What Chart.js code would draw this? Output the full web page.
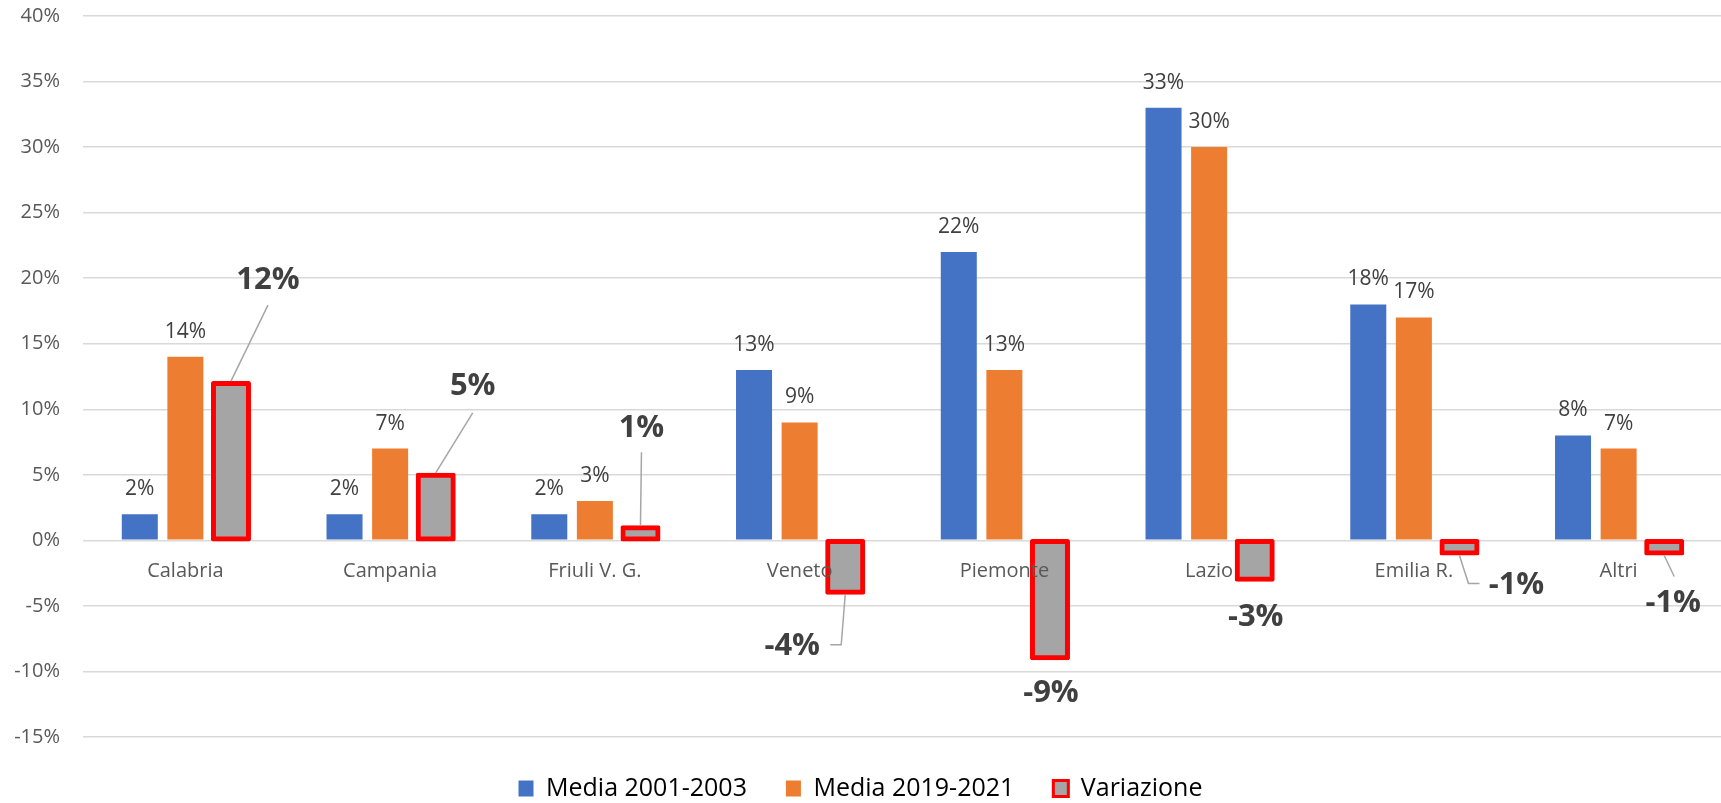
<!DOCTYPE html>
<html>
<head>
<meta charset="utf-8">
<script src="https://cdn.jsdelivr.net/npm/chart.js@4/dist/chart.umd.min.js"></script>
<style>
  html, body { margin: 0; padding: 0; background: #fff; }
  #chart-container { width: 1721px; height: 803px; }
</style>
</head>
<body>
<div id="chart-container"><canvas id="variazione-chart"></canvas></div>
<script>
const regioni = ['Calabria', 'Campania', 'Friuli V. G.', 'Veneto', 'Piemonte', 'Lazio', 'Emilia R.', 'Altri'];
const media2001 = [2, 2, 2, 13, 22, 33, 18, 8];
const media2019 = [14, 7, 3, 9, 13, 30, 17, 7];
const variazione = [12, 5, 1, -4, -9, -3, -1, -1];
const serieNomi = ['Media 2001-2003', 'Media 2019-2021', 'Variazione'];
const yMin = -15;
const yMax = 40;
const yStep = 5;

// posizione delle etichette "Variazione" rispetto alla fine della barra (px),
// leader = punti della linea di richiamo, relativi al centro dell'etichetta
const labelOffsets = [
  { dx: 37, dy: -103, leader: [[0, 25]] },
  { dx: 37, dy: -89, leader: [[0, 27]] },
  { dx: 1, dy: -99, leader: [[0, 24]] },
  { dx: -53, dy: 53, leader: [[49, -1], [38, -1]] },
  { dx: 1, dy: 35, leader: null },
  { dx: 1, dy: 37, leader: null },
  { dx: 57, dy: 32, leader: [[-48, -2], [-37, -2]] },
  { dx: 9, dy: 50, leader: [[1, -27]] },
];

const FONT = '"Open Sans", "Noto Sans", sans-serif';
Chart.defaults.font.family = FONT;

const categoryLabels = {
  id: 'categoryLabels',
  afterDatasetsDraw(chart) {
    const { ctx, scales: { x, y } } = chart;
    const y0 = y.getPixelForValue(0);
    ctx.save();
    ctx.font = `20px ${FONT}`;
    ctx.fillStyle = '#595959';
    ctx.textAlign = 'center';
    ctx.textBaseline = 'middle';
    regioni.forEach((r, i) => ctx.fillText(r, x.getPixelForValue(i), y0 + 31));
    ctx.restore();
  }
};

const valueLabels = {
  id: 'valueLabels',
  afterDatasetsDraw(chart) {
    const ctx = chart.ctx;
    ctx.save();
    ctx.textAlign = 'center';
    ctx.textBaseline = 'middle';
    ctx.fillStyle = '#404040';
    ctx.font = `21px ${FONT}`;
    [0, 1].forEach(d => {
      chart.getDatasetMeta(d).data.forEach((el, i) => {
        ctx.fillText(chart.data.datasets[d].data[i] + '%', el.x, el.y - 25);
      });
    });
    ctx.font = `bold 31px ${FONT}`;
    chart.getDatasetMeta(2).data.forEach((el, i) => {
      const v = variazione[i];
      const off = labelOffsets[i];
      const lx = el.x + off.dx;
      const ly = el.y + off.dy;
      if (off.leader) {
        ctx.beginPath();
        ctx.strokeStyle = '#a6a6a6';
        ctx.lineWidth = 1.5;
        ctx.moveTo(el.x, el.y + (v < 0 ? 2 : -2));
        off.leader.forEach(p => ctx.lineTo(lx + p[0], ly + p[1]));
        ctx.stroke();
      }
      ctx.fillText(v + '%', lx, ly);
    });
    ctx.restore();
  }
};

function initChart() {
  const ctx = document.getElementById('variazione-chart');
  const chartConfig = {
    type: 'bar',
    data: {
      labels: regioni,
      datasets: [
        { label: serieNomi[0], data: media2001, backgroundColor: '#4472c4' },
        { label: serieNomi[1], data: media2019, backgroundColor: '#ed7d31' },
        {
          label: serieNomi[2], data: variazione, backgroundColor: '#a5a5a5',
          borderColor: '#ff0000', borderWidth: 5, borderSkipped: false,
          borderRadius: 2, inflateAmount: 2
        },
      ]
    },
    options: {
      responsive: true,
      maintainAspectRatio: false,
      animation: false,
      categoryPercentage: 0.668,
      barPercentage: 0.79,
      layout: { padding: { top: 16, right: 0, bottom: -8, left: 0 } },
      scales: {
        x: { display: false },
        y: {
          min: yMin,
          max: yMax,
          afterFit(scale) {
            scale.width = 83;
            scale.paddingTop = 0;
            scale.paddingBottom = 0;
          },
          border: { display: false },
          grid: { color: '#d9d9d9', lineWidth: 1.5, drawTicks: false },
          ticks: {
            stepSize: yStep,
            padding: 23,
            color: '#595959',
            font: { size: 20 },
            callback: v => v + '%'
          }
        }
      },
      plugins: {
        tooltip: { enabled: false },
        legend: {
          position: 'bottom',
          labels: {
            color: '#000',
            font: { size: 25 },
            boxWidth: 15,
            boxHeight: 16,
            padding: 39,
            generateLabels(chart) {
              const items = Chart.defaults.plugins.legend.labels.generateLabels(chart);
              items[2].lineWidth = 3;
              return items;
            }
          }
        }
      }
    },
    plugins: [categoryLabels, valueLabels]
  };
  new Chart(ctx, chartConfig);
}

initChart();
</script>
</body>
</html>
